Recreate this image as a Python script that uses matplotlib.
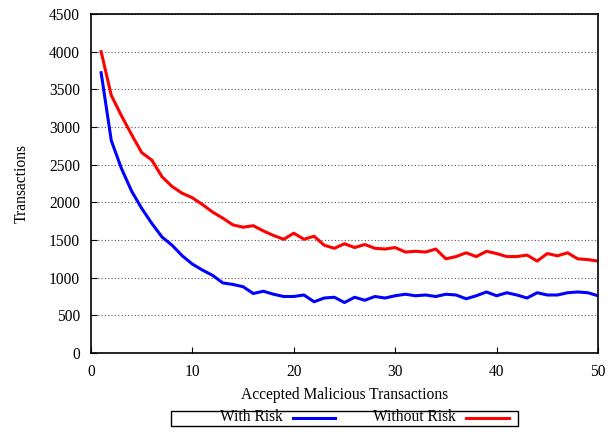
import matplotlib
matplotlib.use('Agg')
import matplotlib.pyplot as plt
from matplotlib.lines import Line2D
from matplotlib.patches import Rectangle

# 读取自参考图的数据
x_values = list(range(1, 51))
with_risk = [3720, 2820, 2450, 2150, 1920, 1720, 1540, 1430, 1290, 1180,
             1100, 1030, 930, 910, 880, 790, 820, 780, 750, 750,
             770, 680, 730, 740, 670, 740, 700, 750, 730, 760,
             780, 760, 770, 750, 780, 770, 720, 760, 810, 760,
             800, 770, 730, 800, 770, 770, 800, 810, 800, 760]
without_risk = [4000, 3420, 3150, 2900, 2660, 2560, 2340, 2210, 2120, 2060,
                1970, 1870, 1790, 1700, 1670, 1690, 1620, 1560, 1510, 1590,
                1510, 1550, 1430, 1390, 1450, 1400, 1440, 1390, 1380, 1400,
                1340, 1350, 1340, 1380, 1250, 1280, 1330, 1280, 1350, 1320,
                1280, 1280, 1300, 1220, 1320, 1290, 1330, 1250, 1240, 1220]
x_ticks = [0, 10, 20, 30, 40, 50]
y_ticks = [0, 500, 1000, 1500, 2000, 2500, 3000, 3500, 4000, 4500]

plt.rcParams['font.family'] = ['Liberation Serif', 'DejaVu Serif']
plt.rcParams['font.size'] = 11.2

W, H = 611, 433
fig = plt.figure(figsize=(W / 100, H / 100), dpi=100)
ax = fig.add_axes([91 / W, 1 - 353 / H, 507 / W, 339 / H])

l1, = ax.plot(x_values, with_risk, color='#0000ff', linewidth=2.2)
l2, = ax.plot(x_values, without_risk, color='#ff0000', linewidth=2.2)

ax.set_xlim(0, 50)
ax.set_ylim(0, 4500)
ax.set_xticks(x_ticks)
ax.set_yticks(y_ticks)
ax.tick_params(direction='in', length=4, width=0.8, pad=8)
ax.yaxis.grid(True, linestyle=(0, (1, 2)), color='#555555', linewidth=0.8)
ax.set_axisbelow(True)
for s in ax.spines.values():
    s.set_linewidth(1.2)

ax.set_xlabel('Accepted Malicious Transactions', labelpad=5)
ax.set_ylabel('Transactions', labelpad=14)

# gnuplot 风格的图例：文字右对齐，线段在右边
def px(x, y):
    return x / W, 1 - y / H

fig.patches.append(Rectangle(px(170.5, 425.7), 347.5 / W, 15 / H,
                             transform=fig.transFigure, fill=False,
                             edgecolor='black', linewidth=1.0))
for line, label, text_right, seg in [(l1, 'With Risk', 283, (293, 335)),
                                     (l2, 'Without Risk', 456, (466, 509))]:
    tx, ty = px(text_right, 417)
    fig.text(tx, ty, label, ha='right', va='center')
    (x0, yy), (x1, _) = px(seg[0], 417.7), px(seg[1], 417.7)
    fig.lines.append(Line2D([x0, x1], [yy, yy], transform=fig.transFigure,
                            color=line.get_color(), linewidth=2.2))

plt.savefig('out.png', dpi=100)
